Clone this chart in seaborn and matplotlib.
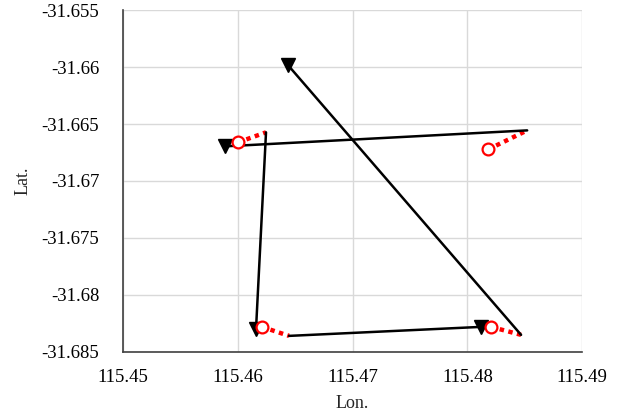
import numpy as np
import pandas as pd
import matplotlib
matplotlib.use('Agg')
import matplotlib.pyplot as plt
import seaborn as sns

sns.set_style('white')
plt.rcParams['font.family'] = ['Liberation Serif', 'DejaVu Serif']

# 黑色轨迹：起点 -> 终点（终点画倒三角）
start_lon = [115.48521, 115.46246, 115.46447, 115.48468]
start_lat = [-31.66556, -31.66573, -31.68359, -31.68350]
end_lon = [115.45889, 115.46159, 115.48120, 115.46438]
end_lat = [-31.66696, -31.68298, -31.68280, -31.65984]

# 红色虚线：圆圈 -> 下一段起点
circ_lon = [115.46002, 115.46211, 115.48207, 115.48181]
circ_lat = [-31.66661, -31.68280, -31.68280, -31.66723]
next_idx = [1, 2, 3, 0]

x_ticks = [115.45, 115.46, 115.47, 115.48, 115.49]
x_labels = ['115.45', '115.46', '115.47', '115.48', '115.49']
y_ticks = [-31.655, -31.66, -31.665, -31.67, -31.675, -31.68, -31.685]
y_labels = ['-31.655', '-31.66', '-31.665', '-31.67', '-31.675', '-31.68', '-31.685']

black = pd.DataFrame({
    'lon': start_lon + end_lon,
    'lat': start_lat + end_lat,
    'seg': list(range(4)) * 2,
    'order': [0] * 4 + [1] * 4,
}).sort_values(['seg', 'order'])

red = pd.DataFrame({
    'lon': circ_lon + [start_lon[i] for i in next_idx],
    'lat': circ_lat + [start_lat[i] for i in next_idx],
    'seg': list(range(4)) * 2,
    'order': [0] * 4 + [1] * 4,
}).sort_values(['seg', 'order'])

fig = plt.figure(figsize=(6.18, 4.18), dpi=100)
ax = fig.add_axes([0.199, 0.158, 0.743, 0.818])

sns.lineplot(data=red, x='lon', y='lat', units='seg', estimator=None, sort=False,
             color='red', linewidth=3.2, linestyle=(0, (1, 1)), ax=ax, zorder=3)
sns.lineplot(data=black, x='lon', y='lat', units='seg', estimator=None, sort=False,
             color='black', linewidth=1.8, ax=ax, zorder=4)
ax.plot(end_lon, end_lat, linestyle='none', marker='v', markersize=10,
        color='black', zorder=5)
ax.plot(circ_lon, circ_lat, linestyle='none', marker='o', markersize=8.5,
        markerfacecolor='white', markeredgecolor='red', markeredgewidth=1.6, zorder=6)

ax.set_xlim(115.45, 115.49)
ax.set_ylim(-31.685, -31.655)
ax.set_xticks(x_ticks)
ax.set_xticklabels(x_labels)
ax.set_yticks(y_ticks)
ax.set_yticklabels(y_labels)
ax.grid(True, color='#d9d9d9', linewidth=1)
ax.set_axisbelow(True)
for s in ['top', 'right']:
    ax.spines[s].set_visible(False)
for s in ['left', 'bottom']:
    ax.spines[s].set_color('#404040')
    ax.spines[s].set_linewidth(1.2)
ax.tick_params(axis='y', direction='out', length=3, width=1, pad=14,
               labelsize=13.5, colors='#404040', labelcolor='black')
ax.tick_params(axis='x', direction='in', length=3, width=1, pad=12,
               labelsize=13.5, colors='#404040', labelcolor='black')
ax.set_xlabel('Lon.', fontsize=13, labelpad=7)
ax.set_ylabel('Lat.', fontsize=13, labelpad=7)

fig.savefig('out.png', dpi=100)
